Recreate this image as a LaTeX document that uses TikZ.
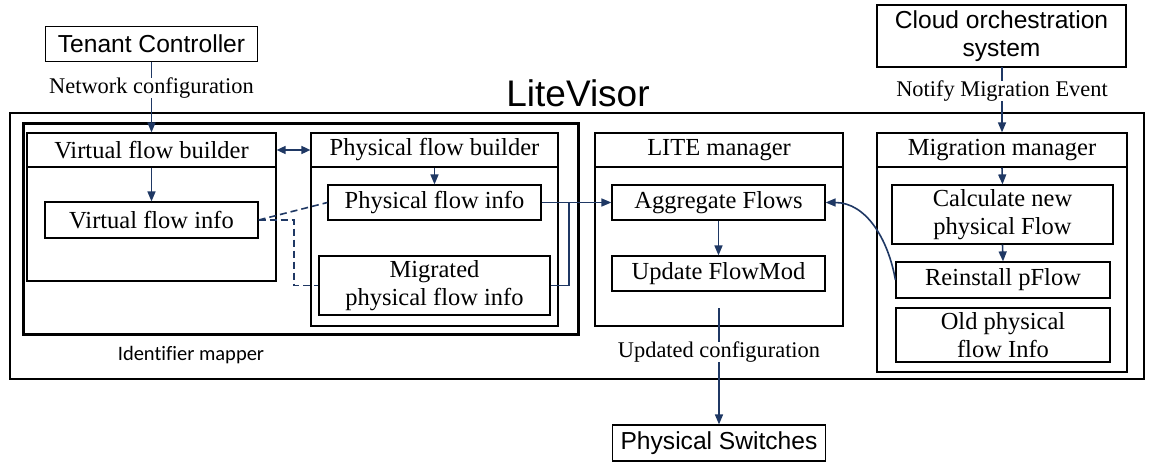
\documentclass[tikz,border=0pt]{standalone}
\usepackage{fontspec}
\setmainfont{Liberation Serif}
\newfontfamily\arialfam{Liberation Sans}
\newfontfamily\calfam[Ligatures=NoCommon]{Carlito}
\usetikzlibrary{arrows.meta}
\definecolor{linkblue}{RGB}{31,56,100}

\begin{document}
\begin{tikzpicture}[x=1pt,y=-1pt,
    box/.style={draw, line width=1.2pt, inner sep=0pt, align=center, font=\fontsize{24.5}{28}\selectfont},
    sbox/.style={box, font=\arialfam\fontsize{24.6}{28}\selectfont},
    lbl/.style={fill=white, inner xsep=1pt, inner ysep=0pt, font=\fontsize{22.4}{26}\selectfont},
    link/.style={linkblue, line width=1.6pt},
    arr/.style={link, -{Triangle[length=10pt,width=8pt]}},
    dlink/.style={link, dash pattern=on 7pt off 4pt}]
    \useasboundingbox (0,0) rectangle (1153,474);

    % Outside systems
    \node[sbox, minimum width=212, minimum height=35] (tc) at (151.5,44) {Tenant Controller};
    \node[sbox, minimum width=249, minimum height=62] (cloud) at (1001.5,36) {Cloud orchestration\\system};
    \node[sbox, minimum width=213, minimum height=36] (phs) at (719,443) {Physical Switches};

    % LiteVisor frame
    \draw[line width=1.2pt] (10,113) rectangle (1144,379);
    \node[font=\arialfam\fontsize{37}{40}\selectfont] (lv) at (578,93) {LiteVisor};
    \draw[line width=3pt] (23,123) rectangle (578,334);
    \node[font=\calfam\fontsize{20.5}{24}\selectfont] (idm) at (191,355) {Identifier mapper};

    % Builders
    \node[box, minimum width=249, minimum height=34] (vfbh) at (151.5,150) {Virtual flow builder};
    \draw[line width=1.2pt] (27,167) rectangle (276,281);
    \node[box, minimum width=247, minimum height=34] (pfbh) at (434.5,150) {Physical flow builder};
    \draw[line width=1.2pt] (311,167) rectangle (558,326);
    \node[box, minimum width=213, minimum height=36] (vfi) at (151.5,220) {Virtual flow info};
    \node[box, minimum width=213, minimum height=35] (pfi) at (434.5,202.5) {Physical flow info};
    \node[box, minimum width=231, minimum height=59] (mpfi) at (434.5,285.5) {Migrated\\physical flow info};

    % LITE manager
    \node[box, minimum width=248, minimum height=34] (liteh) at (719,150) {LITE manager};
    \draw[line width=1.2pt] (595,167) rectangle (843,326);
    \node[box, minimum width=213, minimum height=35] (agg) at (718.5,202.5) {Aggregate Flows};
    \node[box, minimum width=213, minimum height=35] (upd) at (718.5,273.5) {Update FlowMod};

    % Migration manager
    \node[box, minimum width=250, minimum height=34] (migh) at (1002,150) {Migration manager};
    \draw[line width=1.2pt] (877,167) rectangle (1127,372);
    \node[box, minimum width=221, minimum height=59] (calc) at (1002.5,214.5) {Calculate new\\physical Flow};
    \node[box, minimum width=214, minimum height=36] (rein) at (1003,280) {Reinstall pFlow};
    \node[box, minimum width=214, minimum height=54] (old) at (1003,335) {Old physical\\flow Info};

    % Connectors
    \coordinate (jn) at (569,202.5);
    \coordinate (dj) at (294,285.5);
    \coordinate (cfgout) at (719,308);
    \draw[arr] (tc.south) -- (vfbh.north);
    \draw[arr] (1002,67) -- (migh.north);
    \draw[link, {Triangle[length=9pt,width=8pt]}-{Triangle[length=9pt,width=8pt]}] (vfbh.east) -- (pfbh.west);
    \draw[arr] (vfbh.south) -- (vfi.north);
    \draw[arr] (pfbh.south) -- (pfi.north);
    \draw[dlink] (vfi.east) -- (pfi.west);
    \draw[dlink] (vfi.east) -| (dj) -- (mpfi.west);
    \draw[arr] (pfi.east) -- (agg.west);
    \draw[link] (mpfi.east) -| (jn);
    \draw[arr] (agg.south) -- (upd.north);
    \draw[arr] (migh.south) -- (calc.north);
    \draw[arr] (calc.south) -- (rein.north);
    \draw[arr] (rein.west) to[out=100,in=0] (agg.east);
    \draw[arr] (cfgout) -- (phs.north);

    % Connector labels
    \node[lbl] (netcfg) at (151.5,88) {Network configuration};
    \node[lbl] (notify) at (1002,91) {Notify Migration Event};
    \node[lbl] (updcfg) at (719,352) {Updated configuration};
\end{tikzpicture}
\end{document}
